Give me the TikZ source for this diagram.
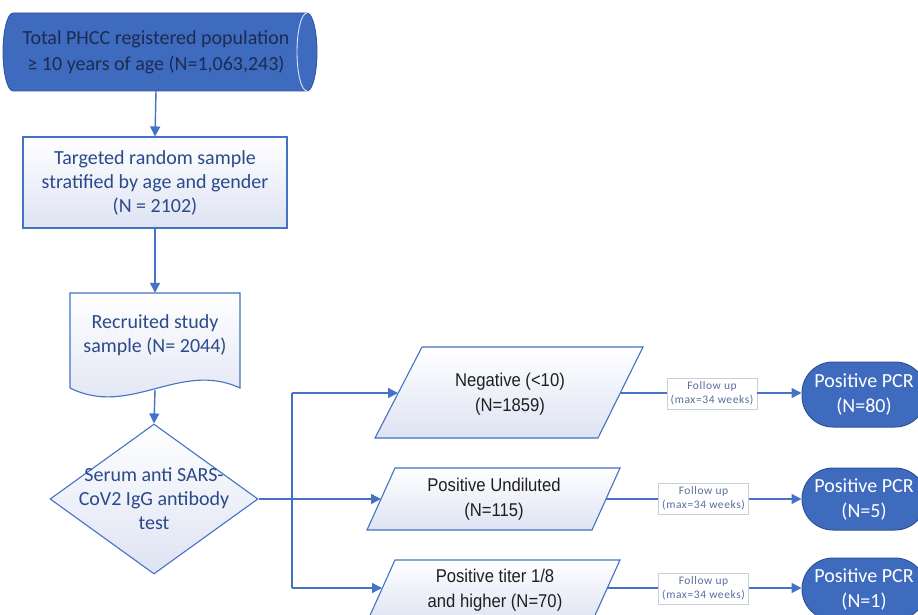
\documentclass[tikz,border=0pt]{standalone}
\usepackage{fontspec}
\setmainfont{Carlito}
\newfontfamily\arialn[FakeStretch=0.9]{Liberation Sans}
\newfontfamily\lblfont[LetterSpace=5]{Carlito}
\usetikzlibrary{arrows.meta,shapes.geometric}
\definecolor{obl}{HTML}{4472C4}
\definecolor{obf}{HTML}{3F6BBE}
\definecolor{obd}{HTML}{2F5597}
\definecolor{txb}{HTML}{2B4A8A}
\definecolor{txn}{HTML}{1C2B52}
\definecolor{lav}{HTML}{DEE3F3}
\definecolor{lblt}{HTML}{5A6E9E}
\definecolor{lblb}{HTML}{C9CED9}
\tikzset{
  ln/.style={draw=obl, line width=1.4pt},
  arr/.style={ln, -{Triangle[length=10pt,width=10pt]}},
  grad/.style={draw=obl, line width=1.1pt, top color=white, bottom color=lav},
  maintxt/.style={font=\fontsize{20}{24}\selectfont, text=txb, align=center, inner sep=0},
  paratxt/.style={font=\arialn\fontsize{18.5}{25}\selectfont, text=black!88, align=center, inner sep=0},
  lbl/.style={draw=lblb, line width=0.8pt, fill=white, minimum width=90pt, minimum height=31pt,
    inner sep=0, align=center, text=lblt, font=\lblfont\fontsize{11.5}{14}\selectfont},
  term/.style={draw=obd, line width=1pt, fill=obf, minimum width=124pt, rounded corners=31pt,
    inner sep=0, align=center, text=white, font=\fontsize{20}{25}\selectfont}
}
\begin{document}
\begin{tikzpicture}[x=1pt,y=-1pt]
\useasboundingbox (0,0) rectangle (918,615);
\clip (0,0) rectangle (918,615);
\fill[white] (0,0) rectangle (918,615);

% cylinder
\draw[draw=obd, line width=0.8pt, fill=obf] (13,13) -- (307,13) arc (90:-90:10pt and 39pt)
   -- (13,91) arc (270:90:10pt and 39pt) -- cycle;
\draw[white!80!obl, line width=0.9pt] (307,13) arc (90:270:10pt and 39pt);
\node[inner sep=0, minimum height=78pt, align=center, text=txn,
  font=\fontsize{20}{26}\selectfont] (pop) at (156,52)
  {Total PHCC registered population\\≥ 10 years of age (N=1,063,243)};

% targeted sample
\node[grad, minimum width=264pt, minimum height=91pt, maintxt,
  font=\fontsize{20}{24}\selectfont] (samp) at (155,182.5)
  {Targeted random sample\\stratified by age and gender\\(N = 2102)};

% document shape
\draw[grad] (70,293) -- (240,293) -- (240,388)
   .. controls (180,360) and (130,418) .. (70,388) -- cycle;
\node[maintxt, minimum height=84pt] (rec) at (155,335) {Recruited study\\sample (N= 2044)};
\coordinate (recb) at (155,390);

% diamond
\node[diamond, grad, minimum width=208pt, minimum height=150pt, inner sep=0] (dia) at (154,499) {};
\node[maintxt] (diat) at (dia.center) {Serum anti SARS-\\CoV2 IgG antibody\\test};

% connectors main column
\draw[arr] (pop.south) -- (samp.north);
\draw[arr] (samp.south) -- (rec.north);
\draw[arr] (recb) -- (dia.north);

% branches
\coordinate (br1) at (292,393);
\coordinate (br2) at (292,499);
\coordinate (br3) at (292,588);
\draw[ln] (dia.east) -- (br2);
\draw[ln] (br1) -- (br3);

% parallelograms
\draw[grad] (422,347) -- (643,347) -- (598,438) -- (375,438) -- cycle;
\draw[grad] (395,468) -- (620,468) -- (592,530) -- (367,530) -- cycle;
\draw[grad] (395,560) -- (620,560) -- (592,622) -- (367,622) -- cycle;
\node[paratxt] (n1) at (510,394.5) {Negative (<10)\\(N=1859)};
\node[paratxt] (n2) at (494,499.5) {Positive Undiluted\\(N=115)};
\node[paratxt] (n3) at (495,590.5) {Positive titer 1/8\\and higher (N=70)};
\coordinate (p1l) at (398,393);
\coordinate (p1r) at (621,393);
\coordinate (p2l) at (381,499);
\coordinate (p2r) at (606,499);
\coordinate (p3l) at (382,588);
\coordinate (p3r) at (607,588);
\draw[arr] (br1) -- (p1l);
\draw[arr] (br2) -- (p2l);
\draw[arr] (br3) -- (p3l);

% follow-up labels
\node[lbl] (f1) at (712,393.5) {Follow up\\(max=34 weeks)};
\node[lbl] (f2) at (703.5,498.5) {Follow up\\(max=34 weeks)};
\node[lbl] (f3) at (703.5,588.5) {Follow up\\(max=34 weeks)};

% terminals
\node[term, minimum height=65pt] (t1) at (864,394.5) {Positive PCR\\(N=80)};
\node[term, minimum height=62pt] (t2) at (864,499) {Positive PCR\\(N=5)};
\node[term, minimum height=62pt] (t3) at (864,589) {Positive PCR\\(N=1)};

\draw[ln] (p1r) -- (f1.west |- p1r);
\draw[arr] (f1.east |- p1r) -- (t1.west |- p1r);
\draw[ln] (p2r) -- (f2.west |- p2r);
\draw[arr] (f2.east |- p2r) -- (t2.west |- p2r);
\draw[ln] (p3r) -- (f3.west |- p3r);
\draw[arr] (f3.east |- p3r) -- (t3.west |- p3r);
\end{tikzpicture}
\end{document}
